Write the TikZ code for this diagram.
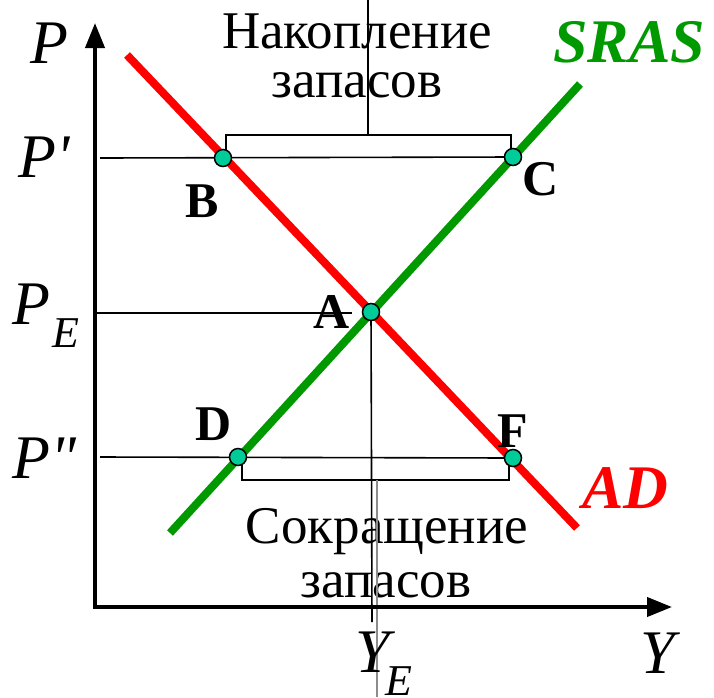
\documentclass[tikz,border=0pt]{standalone}
\usepackage{fontspec}
\setmainfont{Liberation Serif}
\newfontfamily\primefont{Liberation Serif}
\usetikzlibrary{arrows.meta}
\definecolor{adred}{RGB}{255,0,0}
\definecolor{asgreen}{RGB}{0,153,0}
\definecolor{dotfill}{RGB}{0,204,153}
\begin{document}
\begin{tikzpicture}[x=1pt,y=-1pt,
  thinline/.style={line width=1.6pt},
  axisline/.style={line width=4pt,-{Triangle[width=19pt,length=25pt]}},
  curveline/.style={line width=8pt},
  dotnode/.style={circle,draw=black,line width=1.5pt,fill=dotfill,minimum size=17pt,inner sep=0pt},
  lab/.style={font=\fontsize{62}{62}\selectfont\primefont\itshape,inner sep=0pt,anchor=base west},
  sublab/.style={font=\fontsize{44}{44}\selectfont\itshape,inner sep=0pt,anchor=base west},
  ptlab/.style={font=\fontsize{50}{50}\selectfont\bfseries,inner sep=0pt,anchor=base west},
  curvelab/.style={font=\fontsize{62}{62}\selectfont\bfseries\itshape,inner sep=0pt,anchor=base west},
  txt/.style={font=\fontsize{53}{53}\selectfont,inner sep=0pt,anchor=base},
]
\useasboundingbox (0,0) rectangle (714,697);
% key points
\coordinate (a) at (371,312);
\coordinate (b) at (223,158);
\coordinate (c) at (513,157);
\coordinate (d) at (238,457);
\coordinate (f) at (513,458);
\coordinate (ytop) at (95,23);
\coordinate (ybot) at (95,609);
\coordinate (xleft) at (93,607);
\coordinate (xend) at (672,607);
\coordinate (p1s) at (100,158);
\coordinate (pes) at (97,313);
\coordinate (pee) at (352,313);
\coordinate (p2s) at (100,457);
\coordinate (t1) at (226,158);
\coordinate (t2) at (226,135);
\coordinate (t3) at (511,135);
\coordinate (t4) at (511,157);
\coordinate (tm) at (368,135);
\coordinate (tt) at (368,0);
\coordinate (u1) at (242,457);
\coordinate (u2) at (242,480);
\coordinate (u3) at (509,480);
\coordinate (u4) at (509,458);
\coordinate (um) at (377,480);
\coordinate (ub) at (377,697);
\coordinate (adrop) at (372,622);
\coordinate (ad1) at (127,55);
\coordinate (ad2) at (577,528);
\coordinate (as1) at (170,533);
\coordinate (as2) at (580,84);
% texts
\node[txt] (nak1) at (357,48) {Накопление};
\node[txt] (nak2) at (357,97) {запасов};
\node[txt] (sok1) at (387,543) {Сокращение};
\node[txt] (sok2) at (386,597) {запасов};
% thin lines
\draw[thinline] (p1s) -- (c);
\draw[thinline] (pes) -- (pee);
\draw[thinline] (p2s) -- (f);
\draw[thinline] (t1) -- (t2) -- (t3) -- (t4);
\draw[thinline] (tm) -- (tt);
\draw[thinline] (u1) -- (u2) -- (u3) -- (u4);
\draw[thinline,black!45] (um) -- (ub);
\draw[thinline] (a) -- (adrop);
% axes
\draw[axisline] (ybot) -- (ytop);
\draw[axisline] (xleft) -- (xend);
% curves
\draw[curveline,adred] (ad1) -- (ad2);
\draw[curveline,asgreen] (as1) -- (as2);
% dots
\node[dotnode] (A) at (a) {};
\node[dotnode] (B) at (b) {};
\node[dotnode] (C) at (c) {};
\node[dotnode] (D) at (d) {};
\node[dotnode] (F) at (f) {};
% labels
\node[lab] (lP) at (30,63) {P};
\node[lab] (lP1) at (18,177) {P'};
\node[lab] (lPE) at (12,324) {P};
\node[sublab] (lPEs) at (52,347) {E};
\node[lab] (lP2) at (12,478) {P"};
\node[lab] (lY) at (640,673) {Y};
\node[lab] (lYE) at (355,672) {Y};
\node[sublab] (lYEs) at (385,695) {E};
\node[ptlab] (nA) at (313,328) {A};
\node[ptlab] (nB) at (185,217) {B};
\node[ptlab] (nC) at (522,195) {C};
\node[ptlab] (nD) at (195,440) {D};
\node[ptlab] (nF) at (497,447) {F};
\node[curvelab,asgreen] (lSRAS) at (553,62) {SRAS};
\node[curvelab,adred] (lAD) at (582,508) {AD};
\end{tikzpicture}
\end{document}
